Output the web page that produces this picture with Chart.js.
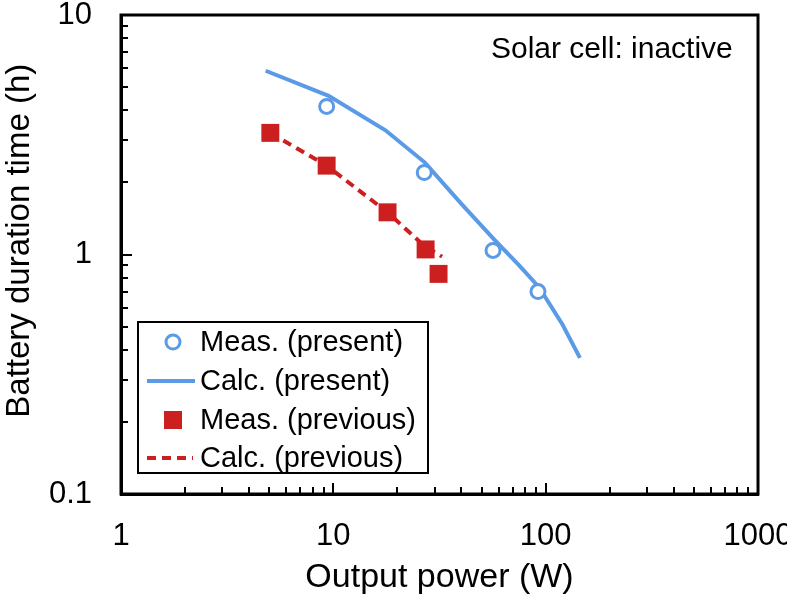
<!DOCTYPE html>
<html>
<head>
<meta charset="utf-8">
<script src="https://cdn.jsdelivr.net/npm/chart.js@4"></script>
<style>
  body { margin: 0; background: #fff; }
  #wrap { width: 787px; height: 600px; }
</style>
</head>
<body>
<div id="wrap"><canvas id="chart" width="787" height="600"></canvas></div>
<script>
// data (log-log)
const presentMeasX = [9.3, 26.8, 56.5, 92];
const presentMeasY = [4.15, 2.2, 1.04, 0.70];
const presentCalcX = [4.8, 9.5, 17.6, 27, 40, 57, 75, 93, 120, 145];
const presentCalcY = [5.85, 4.6, 3.3, 2.42, 1.63, 1.16, 0.9, 0.73, 0.51, 0.37];
const previousMeasX = [5.05, 9.3, 18, 27.2, 31.3];
const previousMeasY = [3.22, 2.35, 1.5, 1.05, 0.83];
const previousCalcX = [5.05, 9.3, 18, 27, 32.5];
const previousCalcY = [3.22, 2.35, 1.5, 1.08, 0.98];

const xTicks = [1, 10, 100, 1000];
const yTicks = [0.1, 1, 10];
const legendLabels = ["Meas. (present)", "Calc. (present)", "Meas. (previous)", "Calc. (previous)"];
const noteText = "Solar cell: inactive";

const BLUE = "#5A9AE6";
const RED = "#CC1F1F";
const FONT = "'Liberation Sans', Arial, sans-serif";

const pts = (xs, ys) => xs.map((x, i) => ({ x: x, y: ys[i] }));

// inside ticks + box frame
const frameTicks = {
  id: "frameTicks",
  afterDatasetsDraw(chart) {
    const { ctx, chartArea: a, scales } = chart;
    ctx.save();
    ctx.strokeStyle = "#000";
    ctx.lineWidth = 2;
    ctx.beginPath();
    for (let d = 0.1; d < 10; d *= 10) {
      for (let k = 1; k <= 10; k++) {
        const v = d * k;
        if (v <= 0.1 || v >= 10) continue;
        const py = Math.round(scales.y.getPixelForValue(v));
        const len = k === 10 || k === 1 ? 11 : 7;
        ctx.moveTo(a.left, py); ctx.lineTo(a.left + len, py);
      }
    }
    for (let d = 1; d < 1000; d *= 10) {
      for (let k = 1; k <= 10; k++) {
        const v = d * k;
        if (v <= 1 || v >= 1000) continue;
        const px = Math.round(scales.x.getPixelForValue(v));
        const len = k === 10 || k === 1 ? 11 : 7;
        ctx.moveTo(px, a.bottom); ctx.lineTo(px, a.bottom - len);
      }
    }
    ctx.stroke();
    ctx.lineWidth = 3;
    ctx.strokeRect(a.left, a.top, a.right - a.left, a.bottom - a.top);
    ctx.restore();
  }
};

// legend box in lower-left + note text
const boxLegend = {
  id: "boxLegend",
  afterDraw(chart) {
    const { ctx, chartArea: a } = chart;
    const bx = a.left + 17, by = 322, bw = 290, bh = 151;
    ctx.save();
    ctx.fillStyle = "#fff";
    ctx.fillRect(bx, by, bw, bh);
    ctx.strokeStyle = "#000";
    ctx.lineWidth = 2;
    ctx.strokeRect(bx, by, bw, bh);

    const rows = [342, 381, 420, 458];
    const sx = bx + 35;
    ctx.font = "29px " + FONT;
    ctx.textBaseline = "middle";
    ctx.textAlign = "left";
    rows.forEach((ry, i) => {
      if (i === 0) {
        ctx.beginPath();
        ctx.arc(sx, ry, 7, 0, Math.PI * 2);
        ctx.fillStyle = "#fff"; ctx.fill();
        ctx.lineWidth = 3; ctx.strokeStyle = BLUE; ctx.stroke();
      } else if (i === 1) {
        ctx.beginPath(); ctx.moveTo(bx + 9, ry); ctx.lineTo(bx + 57, ry);
        ctx.lineWidth = 4; ctx.strokeStyle = BLUE; ctx.setLineDash([]); ctx.stroke();
      } else if (i === 2) {
        ctx.fillStyle = RED; ctx.fillRect(sx - 9, ry - 9, 18, 18);
      } else {
        ctx.beginPath(); ctx.moveTo(bx + 9, ry); ctx.lineTo(bx + 55, ry);
        ctx.lineWidth = 4; ctx.strokeStyle = RED; ctx.setLineDash([9, 6]); ctx.stroke();
        ctx.setLineDash([]);
      }
      ctx.fillStyle = "#000";
      ctx.fillText(legendLabels[i], bx + 62, ry + 1);
    });

    ctx.font = "30px " + FONT;
    ctx.textAlign = "left";
    ctx.fillText(noteText, 491, 50);
    ctx.restore();
  }
};

new Chart(document.getElementById("chart"), {
  type: "scatter",
  data: {
    datasets: [
      {
        label: legendLabels[0], data: pts(presentMeasX, presentMeasY),
        pointStyle: "circle", pointRadius: 7, pointBorderWidth: 3,
        borderColor: BLUE, backgroundColor: "#fff", showLine: false, order: 0
      },
      {
        label: legendLabels[2], data: pts(previousMeasX, previousMeasY),
        pointStyle: "rect", pointRadius: 12.7, pointBorderWidth: 0,
        borderColor: RED, backgroundColor: RED, showLine: false, order: 1
      },
      {
        label: legendLabels[1], data: pts(presentCalcX, presentCalcY),
        showLine: true, pointRadius: 0, borderWidth: 4, borderColor: BLUE,
        backgroundColor: BLUE, order: 2
      },
      {
        label: legendLabels[3], data: pts(previousCalcX, previousCalcY),
        showLine: true, pointRadius: 0, borderWidth: 4, borderDash: [9, 6],
        borderColor: RED, backgroundColor: RED, order: 3
      }
    ]
  },
  options: {
    responsive: false,
    animation: false,
    layout: { padding: { top: 15, right: 29, left: 0, bottom: 0 } },
    plugins: { legend: { display: false }, tooltip: { enabled: false } },
    scales: {
      x: {
        type: "logarithmic", min: 1, max: 1000,
        grid: { display: false, drawTicks: false },
        border: { display: true, color: "#000", width: 3 },
        afterBuildTicks: s => { s.ticks = xTicks.map(v => ({ value: v })); },
        afterFit: s => { s.height = 106; s.paddingLeft = 0; s.paddingRight = 0; },
        ticks: {
          color: "#000", padding: 24, maxRotation: 0, autoSkip: false,
          font: { family: FONT, size: 31 },
          callback: v => String(v)
        },
        title: {
          display: true, text: "Output power (W)", color: "#000",
          font: { family: FONT, size: 34 }, padding: { top: 0, bottom: 2 }
        }
      },
      y: {
        type: "logarithmic", min: 0.1, max: 10,
        grid: { display: false, drawTicks: false },
        border: { display: true, color: "#000", width: 3 },
        afterBuildTicks: s => { s.ticks = yTicks.map(v => ({ value: v })); },
        afterFit: s => { s.width = 121; s.paddingTop = 0; s.paddingBottom = 0; },
        ticks: {
          color: "#000", padding: 29, autoSkip: false,
          font: { family: FONT, size: 31 },
          callback: v => String(v)
        },
        title: {
          // leading spaces nudge the title up a little, as in the reference
          display: true, text: "   Battery duration time (h)", color: "#000",
          font: { family: FONT, size: 33 }, padding: { top: 0, bottom: 0 }
        }
      }
    }
  },
  plugins: [frameTicks, boxLegend]
});
</script>
</body>
</html>
